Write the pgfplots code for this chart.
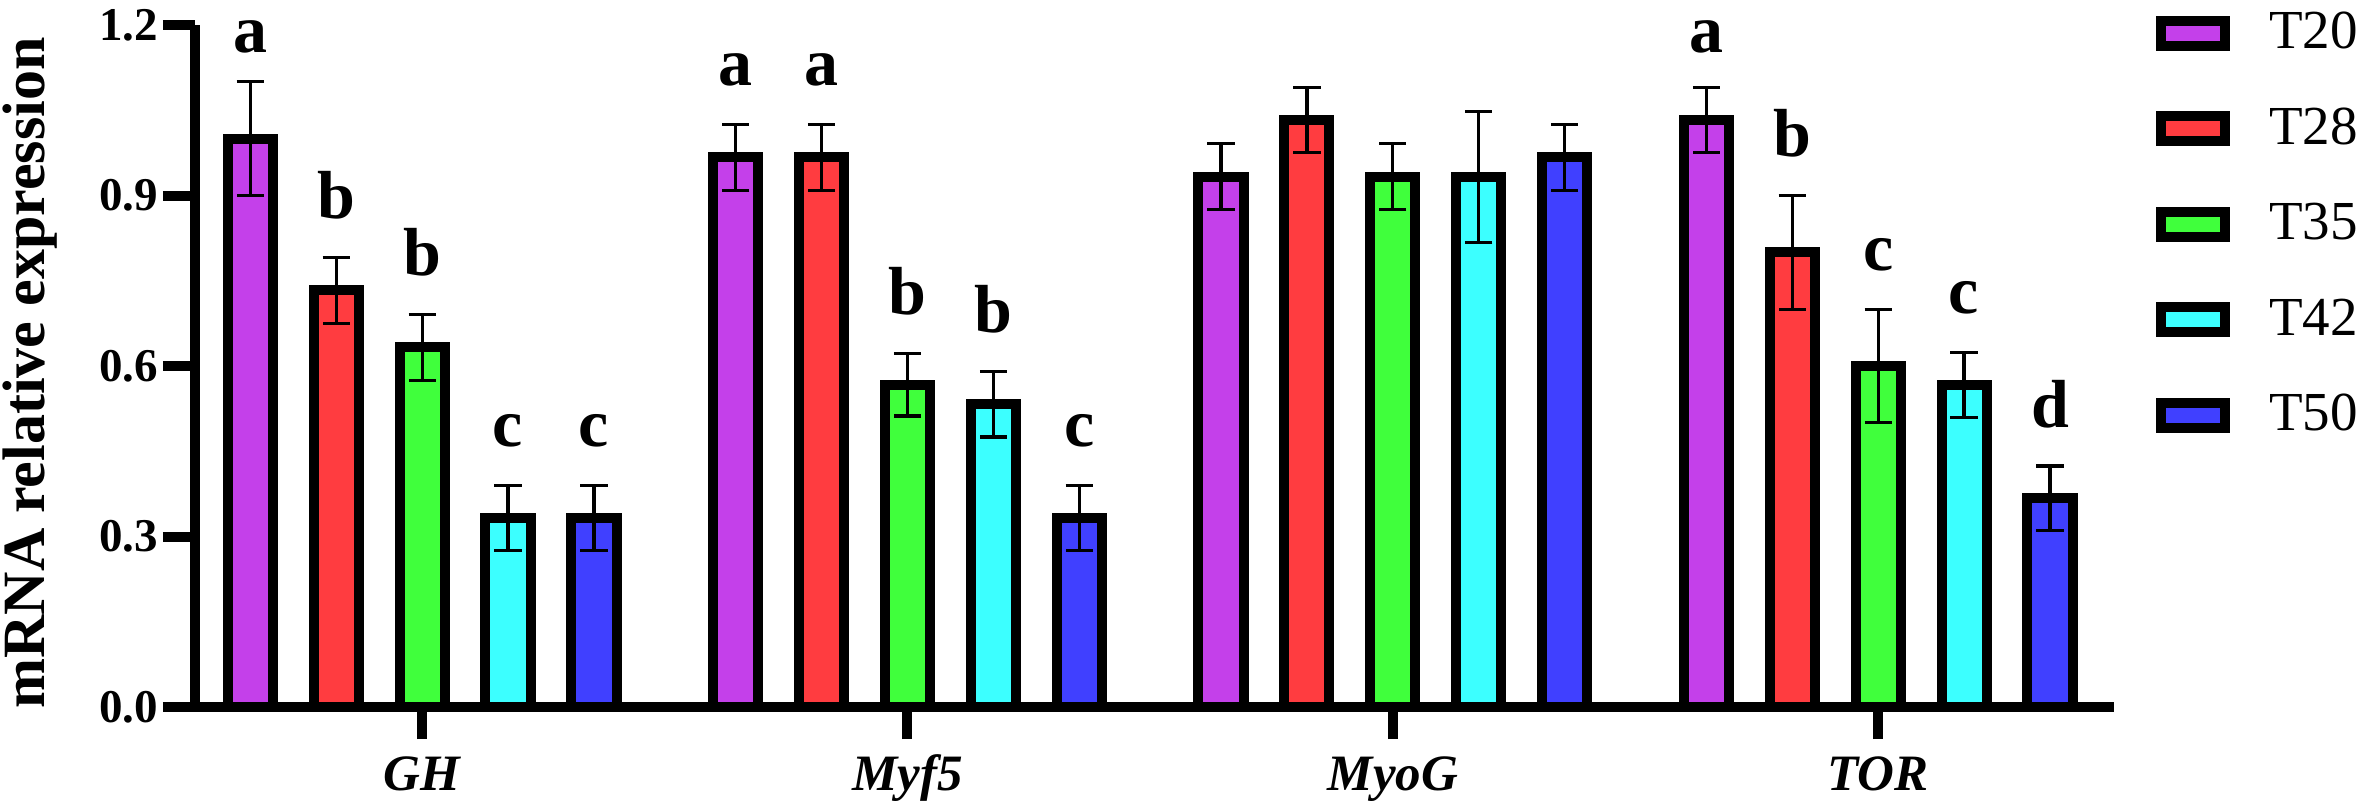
\documentclass[border=0pt]{standalone}
\usepackage{fontspec}
\setmainfont{Liberation Serif}
\usepackage{pgfplots}
\pgfplotsset{compat=1.18}
\usepackage{pgfplotstable}

\definecolor{c20}{RGB}{196,64,234}
\definecolor{c28}{RGB}{255,60,64}
\definecolor{c35}{RGB}{64,255,60}
\definecolor{c42}{RGB}{60,255,255}
\definecolor{c50}{RGB}{64,64,255}

% x = gene group (0 GH, 1 Myf5, 2 MyoG, 3 TOR) + bar offset; y = mean; e = error
\pgfplotstableread{
x      y     e
-0.354 1.000 0.100
0.646  0.967 0.058
1.646  0.933 0.058
2.646  1.033 0.057
}\tTw
\pgfplotstableread{
x      y     e
-0.177 0.733 0.058
0.823  0.967 0.058
1.823  1.033 0.057
2.823  0.800 0.100
}\tTe
\pgfplotstableread{
x      y     e
0.000  0.633 0.058
1.000  0.567 0.055
2.000  0.933 0.058
3.000  0.600 0.100
}\tTf
\pgfplotstableread{
x      y     e
0.177  0.333 0.057
1.177  0.533 0.058
2.177  0.933 0.115
3.177  0.567 0.057
}\tFt
\pgfplotstableread{
x      y     e
0.354  0.333 0.057
1.354  0.333 0.057
2.354  0.967 0.058
3.354  0.367 0.057
}\tFf

\pgfplotsset{
  mybar/.style={fill=#1, draw=black, line width=2.5pt, bar shift=0pt,
    error bars/.cd, y dir=both, y explicit,
    error bar style={line width=0.8pt, black},
    error mark options={rotate=90, mark size=3.4pt, line width=0.8pt, black}},
}

\begin{document}
\begin{tikzpicture}
\path[use as bounding box] (-48.75pt,-24.5pt) rectangle (541.75pt,176.75pt);
\begin{axis}[
  at={(0pt,0pt)}, anchor=south west,
  scale only axis, width=479.75pt, height=170.5pt,
  xmin=-0.468, xmax=3.486, ymin=0, ymax=1.2,
  axis lines=left,
  axis line style={line width=2.5pt, -},
  ybar, bar width=0.093,
  xtick={0,1,2,3},
  xticklabels={GH,Myf5,MyoG,TOR},
  ytick={0,0.3,0.6,0.9,1.2},
  minor tick num=0,
  tick align=outside,
  major tick length=8pt,
  tick style={line width=2.5pt, black},
  yticklabel style={font=\fontsize{11.75}{12}\selectfont\bfseries, inner sep=0pt, anchor=east, xshift=-1pt},
  xticklabel style={font=\fontsize{12.75}{13}\selectfont\bfseries\itshape, inner sep=0pt, anchor=base, yshift=-12.75pt},
  /pgf/number format/.cd, fixed, fixed zerofill, precision=1, assume math mode=true, /pgfplots/.cd,
  ylabel={mRNA relative expression},
  ylabel style={font=\fontsize{15}{15}\selectfont\bfseries, inner sep=0pt,
    at={([xshift=-37.5pt]axis description cs:0,0.4897)}, anchor=base},
  clip=false,
  legend style={draw=none, fill=none, at={(axis description cs:1,1)}, anchor=north west,
    xshift=10.5pt, yshift=3.23pt, inner sep=0pt, outer sep=0pt, row sep=13.25pt,
    nodes={inner sep=0pt, font=\fontsize{13.75}{14}\selectfont},
    /tikz/every odd column/.append style={column sep=9.75pt}},
  legend cell align=left,
  legend image code/.code={\draw[#1] (0pt,-3.125pt) rectangle (16pt,3.125pt);},
]
\addplot[mybar=c20] table[x=x, y=y, y error=e] {\tTw};
\addplot[mybar=c28] table[x=x, y=y, y error=e] {\tTe};
\addplot[mybar=c35] table[x=x, y=y, y error=e] {\tTf};
\addplot[mybar=c42] table[x=x, y=y, y error=e] {\tFt};
\addplot[mybar=c50] table[x=x, y=y, y error=e] {\tFf};
\legend{T20,T28,T35,T42,T50}

\begin{scope}[every node/.style={anchor=base, inner sep=0pt, text height=7.5pt, text depth=0pt, font=\fontsize{17}{17}\selectfont\bfseries}]
\node at (axis cs:-0.354,1.152) {a};
\node at (axis cs:-0.177,0.859) {b};
\node at (axis cs:0.000,0.759) {b};
\node at (axis cs:0.177,0.458) {c};
\node at (axis cs:0.354,0.458) {c};
\node at (axis cs:0.646,1.093) {a};
\node at (axis cs:0.823,1.093) {a};
\node at (axis cs:1.000,0.690) {b};
\node at (axis cs:1.177,0.659) {b};
\node at (axis cs:1.354,0.458) {c};
\node at (axis cs:2.646,1.152) {a};
\node at (axis cs:2.823,0.968) {b};
\node at (axis cs:3.000,0.768) {c};
\node at (axis cs:3.177,0.692) {c};
\node at (axis cs:3.354,0.492) {d};
\end{scope}
\end{axis}
\end{tikzpicture}
\end{document}
